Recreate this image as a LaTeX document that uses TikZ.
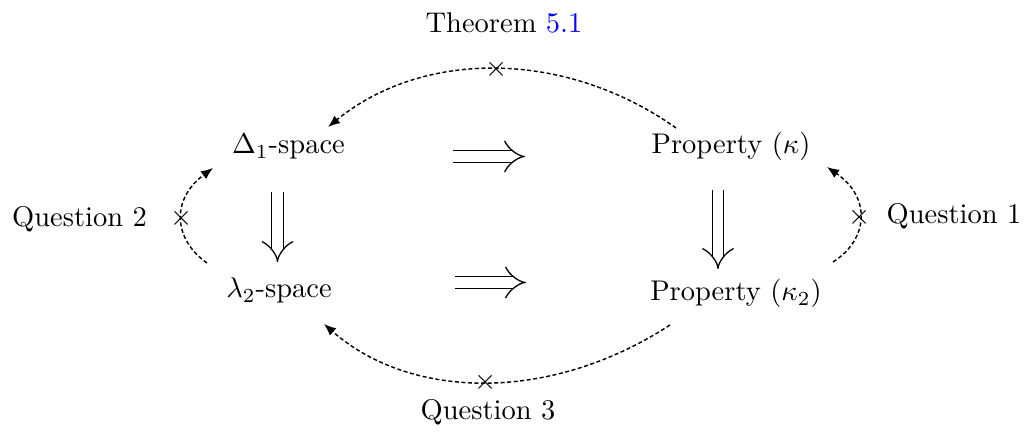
\documentclass[tikz,border=0pt]{standalone}
\usetikzlibrary{arrows.meta,calc}
\begin{document}
\begin{tikzpicture}[x=0.351pt,y=-0.351pt,
  lbl/.style={anchor=base,inner sep=0pt},
  dbl/.style={double,double distance=3.6pt,line width=0.45pt,-{Implies}},
  dasharr/.style={line width=0.5pt,dash pattern=on 1.4pt off 0.9pt,-{Latex[length=4.2pt,width=3.4pt]}},
  crs/.style={inner sep=0pt,solid}]
\useasboundingbox (0,0) rectangle (1024,432);
\node[lbl] (thm) at (504,33) {Theorem \textcolor{blue}{5.1}};
\node[lbl] (d1) at (288.5,154) {$\Delta_1$-space};
\node[lbl] (pk) at (731,154) {Property $(\kappa)$};
\node[lbl] (l2) at (279,298) {$\lambda_2$-space};
\node[lbl] (pk2) at (736,301) {Property $(\kappa_2)$};
\node[lbl] (q1) at (954,224) {Question 1};
\node[lbl] (q2) at (79.5,227) {Question 2};
\node[lbl] (q3) at (488,420) {Question 3};
\coordinate (a1s) at (453,156.5);
\coordinate (a1e) at (525,156.5);
\coordinate (a2s) at (455,282.5);
\coordinate (a2e) at (526,282.5);
\coordinate (a3s) at (277.5,192);
\coordinate (a3e) at (277.5,262);
\coordinate (a4s) at (718,190);
\coordinate (a4e) at (718,269);
\draw[dbl] (a1s) -- (a1e);
\draw[dbl] (a2s) -- (a2e);
\draw[dbl] (a3s) -- (a3e);
\draw[dbl] (a4s) -- (a4e);
\draw[dasharr] ($(pk.base)+(-55,-26)$) .. controls (566,50) and (424,49) .. ($(d1.base)+(39.5,-27)$) node[crs,pos=0.5] {$\times$};
\draw[dasharr] ($(l2.base)+(-72,-35)$) .. controls (174,240) and (170,200) .. ($(d1.base)+(-75.5,14)$) node[crs,pos=0.5] {$\times$};
\draw[dasharr] ($(pk2.base)+(97,-39)$) .. controls (868,240) and (872,198) .. ($(pk.base)+(96,13)$) node[crs,pos=0.5] {$\times$};
\draw[dasharr] ($(pk2.base)+(-66,24)$) .. controls (552,402) and (412,401) .. ($(l2.base)+(45,26)$) node[crs,pos=0.5] {$\times$};
\end{tikzpicture}
\end{document}
